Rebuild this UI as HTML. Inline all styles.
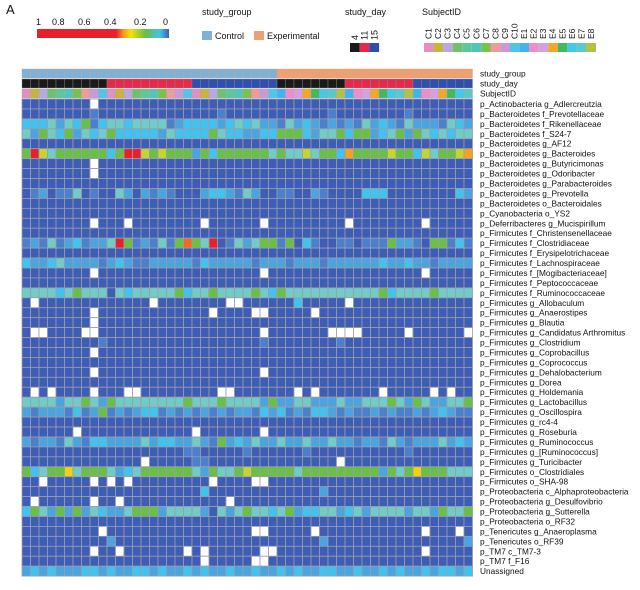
<!DOCTYPE html>
<html><head><meta charset="utf-8"><style>
body{margin:0;background:#fff;font-family:"Liberation Sans",sans-serif;}
svg text{font-family:"Liberation Sans",sans-serif;fill:#111;}
</style></head><body>
<svg id="chart" width="640" height="585" viewBox="0 0 640 585" xmlns="http://www.w3.org/2000/svg">
<text x="6" y="14" font-size="13">A</text>
<defs><linearGradient id="grad" x1="0" x2="1" y1="0" y2="0">
<stop offset="0" stop-color="#e8202a"/><stop offset="0.6" stop-color="#e8202a"/><stop offset="0.66" stop-color="#f7a21a"/><stop offset="0.71" stop-color="#f4e10a"/><stop offset="0.82" stop-color="#6abf45"/><stop offset="0.93" stop-color="#45c4e8"/><stop offset="1" stop-color="#3e5db4"/></linearGradient></defs>
<rect x="37" y="29" width="132" height="9" fill="url(#grad)"/>
<g font-size="9">
<text x="36" y="25">1</text><text x="52" y="25">0.8</text><text x="78" y="25">0.6</text><text x="104" y="25">0.4</text><text x="134" y="25">0.2</text><text x="163" y="25">0</text></g>
<text x="202" y="15" font-size="9">study_group</text>
<rect x="202" y="31" width="10" height="9" fill="#7fb0d8"/>
<text x="215" y="39" font-size="9">Control</text>
<rect x="254" y="31" width="10" height="9" fill="#f0a070"/>
<text x="267" y="39" font-size="9">Experimental</text>
<text x="345" y="15" font-size="9">study_day</text>
<text x="422" y="15" font-size="9">SubjectID</text>
<g id="legends"></g>
<g id="grid"></g>
<g id="labels" font-size="8.3"></g>
</svg>
<script>
const taxa=["p_Actinobacteria g_Adlercreutzia","p_Bacteroidetes f_Prevotellaceae","p_Bacteroidetes f_Rikenellaceae","p_Bacteroidetes f_S24-7","p_Bacteroidetes g_AF12","p_Bacteroidetes g_Bacteroides","p_Bacteroidetes g_Butyricimonas","p_Bacteroidetes g_Odoribacter","p_Bacteroidetes g_Parabacteroides","p_Bacteroidetes g_Prevotella","p_Bacteroidetes o_Bacteroidales","p_Cyanobacteria o_YS2","p_Deferribacteres g_Mucispirillum","p_Firmicutes f_Christensenellaceae","p_Firmicutes f_Clostridiaceae","p_Firmicutes f_Erysipelotrichaceae","p_Firmicutes f_Lachnospiraceae","p_Firmicutes f_[Mogibacteriaceae]","p_Firmicutes f_Peptococcaceae","p_Firmicutes f_Ruminococcaceae","p_Firmicutes g_Allobaculum","p_Firmicutes g_Anaerostipes","p_Firmicutes g_Blautia","p_Firmicutes g_Candidatus Arthromitus","p_Firmicutes g_Clostridium","p_Firmicutes g_Coprobacillus","p_Firmicutes g_Coprococcus","p_Firmicutes g_Dehalobacterium","p_Firmicutes g_Dorea","p_Firmicutes g_Holdemania","p_Firmicutes g_Lactobacillus","p_Firmicutes g_Oscillospira","p_Firmicutes g_rc4-4","p_Firmicutes g_Roseburia","p_Firmicutes g_Ruminococcus","p_Firmicutes g_[Ruminococcus]","p_Firmicutes g_Turicibacter","p_Firmicutes o_Clostridiales","p_Firmicutes o_SHA-98","p_Proteobacteria c_Alphaproteobacteria","p_Proteobacteria g_Desulfovibrio","p_Proteobacteria g_Sutterella","p_Proteobacteria o_RF32","p_Tenericutes g_Anaeroplasma","p_Tenericutes o_RF39","p_TM7 c_TM7-3","p_TM7 f_F16","Unassigned"];
// cell codes -> relative abundance (w = missing)
const codeValue={b:0.02,m:0.06,s:0.1,c:0.13,t:0.17,g:0.25,y:0.35,Y:0.4,o:0.45,O:0.5,r:0.8};
const rows=[
"bbbbbbbbw",
"bbbbbbbbmbbbbbbbbbbbbbbmbbbbbbbbbbbbmbbbbbbbbmbbbbbbb",
"ccctstcgmcttcttttmsccccsctctssmtscsmsmsmtscsmtsssmtcs",
"tsgtcgstctgcccccstccccgtccssccgggcsttgcggsctgsgtctctt",
"b",
"grytggggggcgrrygygggsgcggggggtgttytggcoggggyggcytggyo",
"bbbbbbbbw",
"bbbbbbbbw",
"b",
"bmsbmmtbmbbtsbsmsmbbbsccsmtsbbmmbbsmbbbbcccbbbbbbbbcs",
"b","b",
"bbbbbbbbwbbbwbbbbbbbbwbbbbbbwbbbbbbbbbwbbbbbbbbwbbbbb",
"b",
"msmtmscmsstlgmsmtmgOgtlbmtstggmgbcmbbmmbmmmgssmbggmcm",
"b",
"cssctssssmscsmmsssssmcsssssmsssmsssmsssssscsscssmssss",
"bbbbbbbbwbbbbbbbbbbbbbbbbbbbwbbbbbbbbbbbbbbbbbbwbbbbb",
"b",
"ttttctgtttbtctttttgcttgttttgtcgtttttttttttgcttttgtttt",
"bwbbbbbbbbbbbbbwbbbbbbbbwwbbbbbbcbbbbbwbbbbbbbbbbbbbb",
"bbbbbbbbwbbbbbbbbbbbbbwbbbbwwbbbbbwbbbbbbbbbbbbbbbbbb",
"bbbbbbbbw",
"bwwbbbbwwbbbbbbbbbbbbbbbbbbbwbbbbbbbwwwwbbbbbwbbbbbbw",
"bbbbbbbbbmbbbbbbbbbbbbbbbbbbmbbbbbbbbmbbbbbbbbbbbbbbb",
"bbbbbbbbw",
"b",
"bbbbbbbbwbbbbbbbbbbbbbbbbbbbwbbbbbbbbbbbbbbbbbbbbbbbb",
"b",
"bwbwbbbbwbbbwwbbbbbbbbbwwbbbbbbbwbwbbbbbbbwbbbbbwbwbb",
"ttttsttgtsgttttttttgtttgttttsgssttssstsstttgtsgtssttg",
"smsssmcmsgmsmsccmsmsmsmsmssmcscmsmccsmsmmsmsmmsmscsmm",
"b",
"bbbbbbwbbbbbbbbbbbbbwbbbbbbbwbbbbbbbbbbbbbbbbbbbbbbbb",
"smssmtsmccsssstsccsstsmgscstsstsstsstssmssmtsmssstscs",
"bbbbbbbbbbbbbbbbbbbmmbbbbbmbbbbbbmbbbbbbbbbbbmbbbbbbb",
"bbbbbbbbbbbbbbwbbbbbmmbbbbbbbbbbbbbbbwbbbbbbbbbbbbbbb",
"gctggYtgggtsctggggggtsgttgygggggtgggggggggsgtgYgggttt",
"bbwbbbbbwbwbwbbbbbbbbbwbbbbwwbbbbbbbbbbbbbbbbbbbbbbbb",
"bbbbbbbbbbbbbbbbbbbbbcbbbbbbbbbbbbbsbbbbbbbbbbbbbbbbb",
"bwbbbbbbwbbwbbbbbbbbbbbbwbbbbbbbbbbbbbbbbbbbbbbbbbbbb",
"cgtsgsgstcsstgggsttttsbtstgttctgsccttsctsttttsttsgttg",
"b",
"bbbbbbbbbwbbbbbbbbbbbbbbbbbwwbbbbbwbbbbbbbbbbbbwbbbwb",
"bbbbbbbbbbsbbbbbbbbbbbbbbbbbbbbbbbbsbbbbbbbbbbbbbbbbs",
"bbbbbbbbwbbwbbbbbbbwbwbbbbbbwwbbbbbbbbbbbbbbbbbwbbbbb",
"bbbbbbbbbbbbbbbbbbbbbwbbbbbwwbbbbbbbbbbbbbbbbbbbbbbbb",
"scscsssccscssccscsscscsscsscsscscssccsscsscscsscsccsc"];
const groups=["Control","Control","Control","Control","Control","Control","Control","Control","Control","Control","Control","Control","Control","Control","Control","Control","Control","Control","Control","Control","Control","Control","Control","Control","Control","Control","Control","Control","Control","Control","Experimental","Experimental","Experimental","Experimental","Experimental","Experimental","Experimental","Experimental","Experimental","Experimental","Experimental","Experimental","Experimental","Experimental","Experimental","Experimental","Experimental","Experimental","Experimental","Experimental","Experimental","Experimental","Experimental"];
const days=[4,4,4,4,4,4,4,4,4,4,11,11,11,11,11,11,11,11,11,11,15,15,15,15,15,15,15,15,15,15,4,4,4,4,4,4,4,4,11,11,11,11,11,11,11,11,15,15,15,15,15,15,15];
const subjects=["C1","C2","C3","C4","C5","C6","C7","C8","C9","C10","C1","C2","C3","C4","C5","C6","C7","C8","C9","C10","C1","C2","C3","C4","C5","C6","C7","C8","C9","C10","E1","E2","E3","E4","E5","E6","E7","E8","E1","E2","E3","E4","E5","E6","E7","E8","E1","E2","E3","E4","E5","E6","E7"];
const subjectIds=["C1","C2","C3","C4","C5","C6","C7","C8","C9","C10","E1","E2","E3","E4","E5","E6","E7","E8"];
const subjectColors=["#e58fc0","#c9b33a","#b6a8e0","#6ec26a","#5ec79a","#50c6b8","#7cc24a","#f29a9a","#c89ad8","#4fc6e8","#3fb4f0","#f08cc8","#d6a0e0","#f5a623","#3fba60","#45c8e8","#5ec8c8","#b8c040"];
const dayLevels=[4,11,15];
const dayColors=["#1a1a1a","#e8284a","#2f4fb0"];
const groupColors={Control:"#7fb0d8",Experimental:"#f0a070"};

const NS="http://www.w3.org/2000/svg";
const nCols=days.length, x0=22, cw=8.5, y0=99, rh=9.94;
const xPos=i=>x0+i*cw, yPos=r=>y0+r*rh;
function color(v){
 if(v===null)return "#ffffff";
 if(v<0.04)return "#3e5db4"; if(v<0.08)return "#4a80cc"; if(v<0.115)return "#4aa5df";
 if(v<0.15)return "#40c4ee"; if(v<0.2)return "#70ccc4"; if(v<0.3)return "#6abf45";
 if(v<0.37)return "#c5d52e"; if(v<0.42)return "#f4d20a"; if(v<0.48)return "#f7a21a";
 if(v<0.55)return "#f06a24"; return "#e8202a";
}
function mk(tag,at,parent){const e=document.createElementNS(NS,tag);for(const k in at)e.setAttribute(k,at[k]);parent.appendChild(e);return e;}
const grid=document.getElementById('grid'), labels=document.getElementById('labels'), leg=document.getElementById('legends');
const annY=[69,79,89];
for(let i=0;i<nCols;i++){
 let e=mk('rect',{x:xPos(i),y:annY[0],width:cw,height:9,fill:groupColors[groups[i]],stroke:"#c8a890","stroke-width":0.4},grid);
 
 
 e=mk('rect',{x:xPos(i),y:annY[1],width:cw,height:9,fill:dayColors[dayLevels.indexOf(days[i])],stroke:"#888","stroke-width":0.4},grid);
 
 
 e=mk('rect',{x:xPos(i),y:annY[2],width:cw,height:9,fill:subjectColors[subjectIds.indexOf(subjects[i])],stroke:"#aaa","stroke-width":0.4},grid);
 
 
}
rows.forEach((s,r)=>{
 for(let i=0;i<nCols;i++){
  const ch=s[i]||'b';
  const v=ch==='w'?null:codeValue[ch];
  const e=mk('rect',{x:xPos(i),y:yPos(r),width:cw,height:rh,fill:color(v),stroke:"#9c9cae","stroke-width":0.8},grid);
  
  
 }
 const t=mk('text',{x:480,y:yPos(r)+rh/2+3},labels);t.textContent=taxa[r];
 
 
});
["study_group","study_day","SubjectID"].forEach((n,k)=>{const t=mk('text',{x:480,y:annY[k]+7.5},labels);t.textContent=n;
 
 });
dayLevels.forEach((d,k)=>{
 const x=350+k*9.7;
 const e=mk('rect',{x:x,y:43,width:9.7,height:9,fill:dayColors[k]},leg);
 
 
 const t=mk('text',{x:0,y:0,"font-size":9,transform:`translate(${x+8},40) rotate(-90)`},leg);t.textContent=d;
 
 
});
subjectIds.forEach((s,k)=>{
 const w=172/18,x=424+k*w;
 const e=mk('rect',{x:x,y:43,width:w,height:9,fill:subjectColors[k]},leg);
 
 
 const t=mk('text',{x:0,y:0,"font-size":8.5,transform:`translate(${x+7.5},39) rotate(-90)`},leg);t.textContent=s;
 
 
});
</script>
</body></html>
